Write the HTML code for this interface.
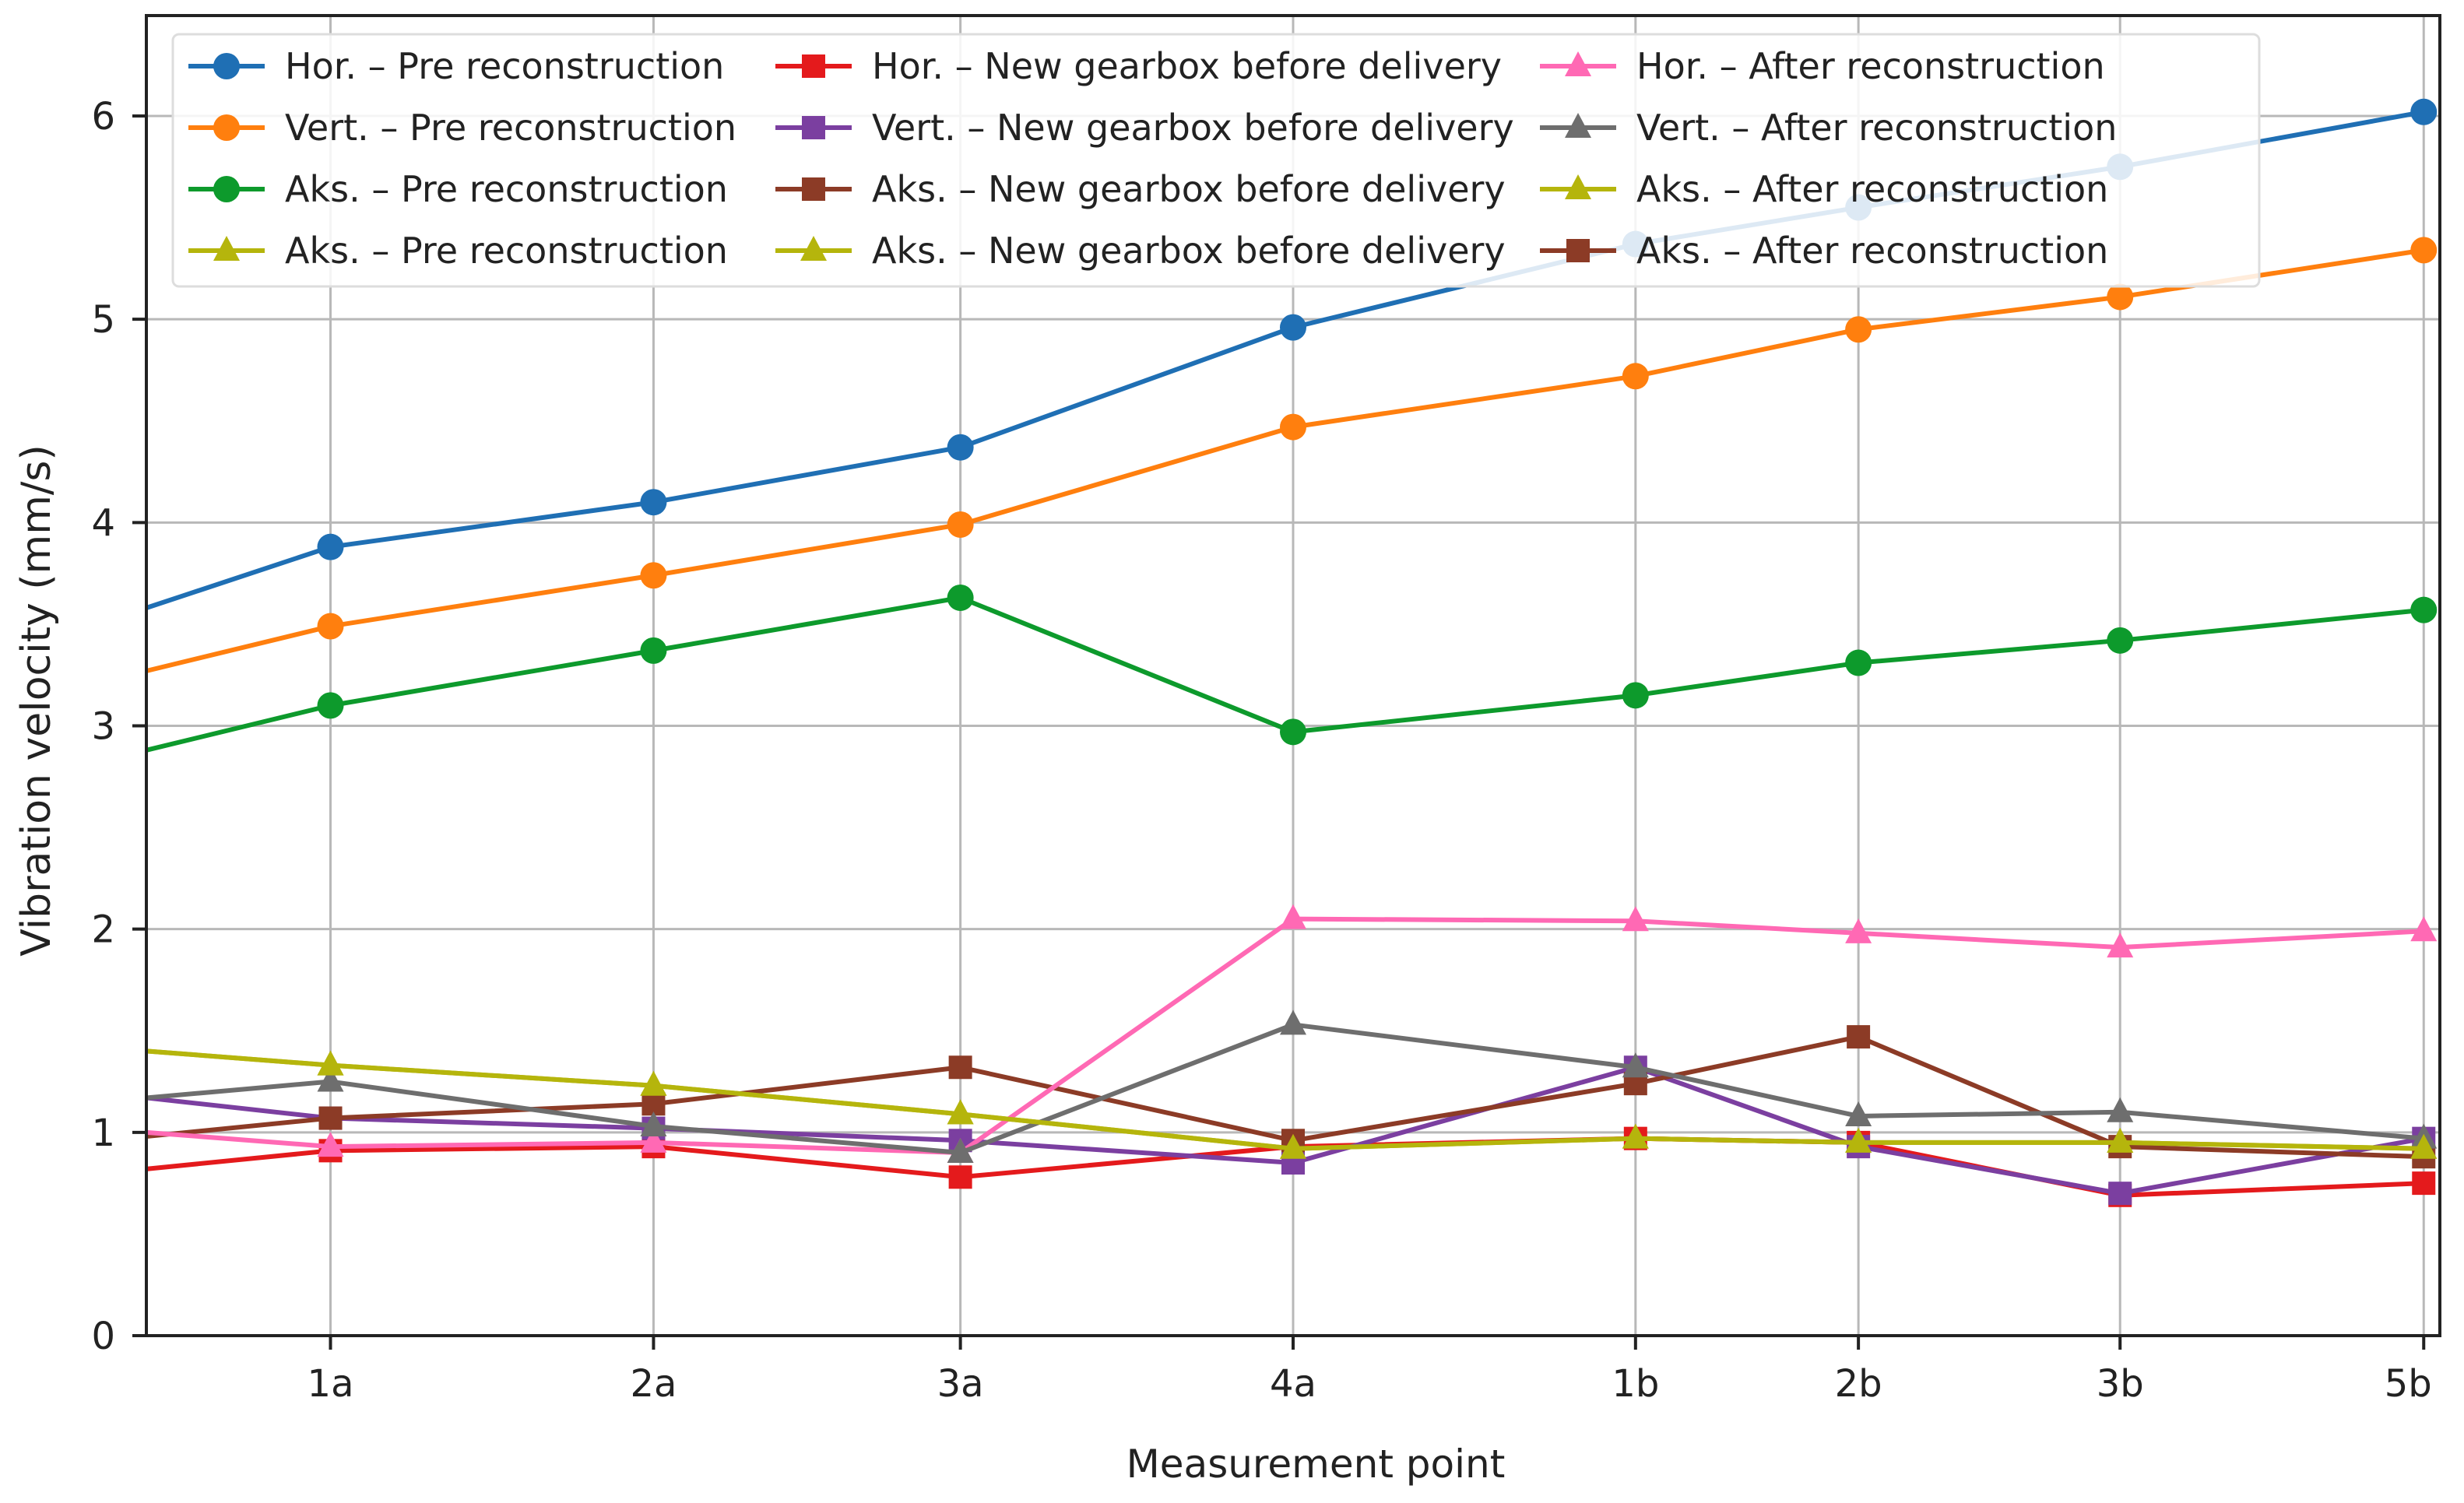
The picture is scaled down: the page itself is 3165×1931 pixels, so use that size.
<!DOCTYPE html>
<html><head><meta charset="utf-8">
<style>
html,body{margin:0;padding:0;background:#fff;}
svg{display:block;font-family:"DejaVu Sans","Liberation Sans",sans-serif;}
</style></head>
<body>
<svg id="chart" width="3165" height="1931" viewBox="0 0 3165 1931">
<rect x="0" y="0" width="3165" height="1931" fill="#fff"/>
<g id="grid"></g>
<g id="series"></g>
<g id="axes"></g>
<g id="legend"></g>
</svg>
<script>
const categories = ["", "1a", "2a", "3a", "4a", "1b", "2b", "3b", "5b"];
const xCoords = [0, 0.57, 1.57, 2.52, 3.55, 4.61, 5.3, 6.11, 7.05];
const yTicks = [0, 1, 2, 3, 4, 5, 6];
const horPre = [3.58, 3.88, 4.10, 4.37, 4.96, 5.37, 5.55, 5.75, 6.02];
const vertPre = [3.27, 3.49, 3.74, 3.99, 4.47, 4.72, 4.95, 5.11, 5.34];
const aksPre = [2.88, 3.10, 3.37, 3.63, 2.97, 3.15, 3.31, 3.42, 3.57];
const aksPreTri = [1.40, 1.33, 1.23, 1.09, 0.92, 0.97, 0.95, 0.95, 0.92];
const horNew = [0.82, 0.91, 0.93, 0.78, 0.93, 0.97, 0.95, 0.69, 0.75];
const vertNew = [1.17, 1.07, 1.02, 0.96, 0.85, 1.32, 0.93, 0.70, 0.97];
const aksNew = [0.98, 1.07, 1.14, 1.32, 0.96, 1.24, 1.47, 0.93, 0.88];
const horAfter = [1.00, 0.93, 0.95, 0.90, 2.05, 2.04, 1.98, 1.91, 1.99];
const vertAfter = [1.17, 1.25, 1.03, 0.90, 1.53, 1.32, 1.08, 1.10, 0.97];
const aksAfter = [1.40, 1.33, 1.23, 1.09, 0.92, 0.97, 0.95, 0.95, 0.92];

const L = 188, R = 3134, T = 20, B = 1716;
const xMin = 0, xMax = 7.1, yMin = 0, yMax = 6.494;
function xs(v){ return L + (v - xMin) / (xMax - xMin) * (R - L); }
function ys(v){ return B - (v - yMin) / (yMax - yMin) * (B - T); }
const NS = "http://www.w3.org/2000/svg";
function mk(tag, attrs, parent){ const e = document.createElementNS(NS, tag); for (const k in attrs) e.setAttribute(k, attrs[k]); parent.appendChild(e); return e; }

const grid = document.getElementById('grid');
yTicks.forEach(t => {
  const l = mk('line', {x1:L, x2:R, y1:ys(t), y2:ys(t), stroke:'#b8b8b8', 'stroke-width':3}, grid);
  
  
});
categories.forEach((c, i) => {
  if (!c) return;
  const l = mk('line', {x1:xs(xCoords[i]), x2:xs(xCoords[i]), y1:T, y2:B, stroke:'#b8b8b8', 'stroke-width':3}, grid);
  
  
});

const seriesDefs = [
  {name:'hor-pre', data:horPre, color:'#1f6fb4', m:'circle'},
  {name:'vert-pre', data:vertPre, color:'#ff7f0e', m:'circle'},
  {name:'aks-pre', data:aksPre, color:'#0d9a2c', m:'circle'},
  {name:'aks-pre-tri', data:aksPreTri, color:'#b5b50c', m:'tri'},
  {name:'hor-new', data:horNew, color:'#e41a1c', m:'square'},
  {name:'vert-new', data:vertNew, color:'#7b3fa0', m:'square'},
  {name:'aks-new', data:aksNew, color:'#8c3b26', m:'square'},
  {name:'hor-after', data:horAfter, color:'#ff69b4', m:'tri'},
  {name:'vert-after', data:vertAfter, color:'#6e6e6e', m:'tri'},
  {name:'aks-after', data:aksAfter, color:'#b5b50c', m:'tri'}
];
function marker(type, x, y, color, parent){
  let e;
  if (type === 'circle') e = mk('circle', {cx:x, cy:y, r:17, fill:color}, parent);
  else if (type === 'square') e = mk('rect', {x:x-15, y:y-15, width:30, height:30, fill:color}, parent);
  else e = mk('polygon', {points:`${x},${y-19} ${x+17},${y+13} ${x-17},${y+13}`, fill:color}, parent);
  return e;
}
const sg = document.getElementById('series');
seriesDefs.forEach(s => {
  const g = mk('g', {}, sg);
  
  
  const pts = s.data.map((v, i) => xs(xCoords[i]) + ',' + ys(v)).join(' ');
  const pl = mk('polyline', {points:pts, fill:'none', stroke:s.color, 'stroke-width':6, 'stroke-linejoin':'round'}, g);
  
  
  s.data.forEach((v, i) => {
    if (i === 0) return;
    const m = marker(s.m, xs(xCoords[i]), ys(v), s.color, g);
    
    
  });
});

const ax = document.getElementById('axes');
mk('rect', {x:L, y:T, width:R-L, height:B-T, fill:'none', stroke:'#222', 'stroke-width':4}, ax);
yTicks.forEach(t => {
  mk('line', {x1:L-18, x2:L, y1:ys(t), y2:ys(t), stroke:'#222', 'stroke-width':4}, ax);
  const tx = mk('text', {x:148, y:ys(t)+17, 'text-anchor':'end', 'font-size':48, fill:'#222'}, ax);
  tx.textContent = t;
  
  
});
categories.forEach((c, i) => {
  if (!c) return;
  mk('line', {x1:xs(xCoords[i]), x2:xs(xCoords[i]), y1:B, y2:B+18, stroke:'#222', 'stroke-width':4}, ax);
  const tx = mk('text', {x:xs(xCoords[i]) - (i===8?20:0), y:1794, 'text-anchor':'middle', 'font-size':48, fill:'#222'}, ax);
  tx.textContent = c;
  
  
});
const xt = mk('text', {x:1690, y:1898, 'text-anchor':'middle', 'font-size':50, fill:'#222'}, ax);
xt.textContent = 'Measurement point';


const yt = mk('text', {x:0, y:0, 'text-anchor':'middle', 'font-size':52, fill:'#222', transform:'translate(64,900) rotate(-90)'}, ax);
yt.textContent = 'Vibration velocity (mm/s)';



const legendLabels = [
  ['Hor. – Pre reconstruction','Hor. – New gearbox before delivery','Hor. – After reconstruction'],
  ['Vert. – Pre reconstruction','Vert. – New gearbox before delivery','Vert. – After reconstruction'],
  ['Aks. – Pre reconstruction','Aks. – New gearbox before delivery','Aks. – After reconstruction'],
  ['Aks. – Pre reconstruction','Aks. – New gearbox before delivery','Aks. – After reconstruction']
];
const legendColors = [
  ['#1f6fb4','#e41a1c','#ff69b4'],
  ['#ff7f0e','#7b3fa0','#6e6e6e'],
  ['#0d9a2c','#8c3b26','#b5b50c'],
  ['#b5b50c','#b5b50c','#8c3b26']
];
const legendMarkers = [
  ['circle','square','tri'],['circle','square','tri'],['circle','square','tri'],['tri','tri','square']
];
const lg = document.getElementById('legend');
mk('rect', {x:222, y:44, width:2680, height:324, rx:8, fill:'#fff', 'fill-opacity':0.85, stroke:'#ddd', 'stroke-width':3}, lg);
const colX = [242, 996, 1978];
legendLabels.forEach((row, r) => {
  const y = 85 + r*79;
  row.forEach((lab, c) => {
    const g = mk('g', {}, lg);
    
    
    const col = legendColors[r][c];
    mk('line', {x1:colX[c], x2:colX[c]+98, y1:y, y2:y, stroke:col, 'stroke-width':6}, g);
    marker(legendMarkers[r][c], colX[c]+49, y, col, g);
    const t = mk('text', {x:colX[c]+124, y:y+16, 'font-size':46, fill:'#222'}, g);
    t.textContent = lab;
  });
});
</script>
</body></html>
